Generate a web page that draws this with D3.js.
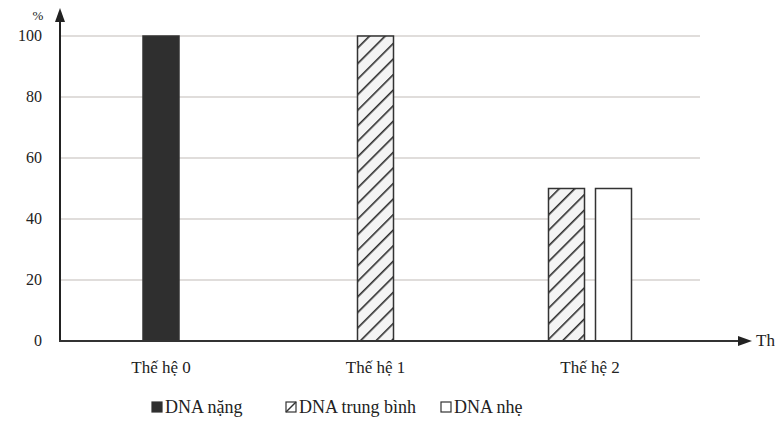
<!DOCTYPE html>
<html><head><meta charset="utf-8">
<script src="https://cdn.jsdelivr.net/npm/d3@7"></script>
<style>body{margin:0;background:#fff}text{font-family:"Liberation Serif",serif;fill:#222}</style>
</head><body><svg id="c" width="775" height="432"></svg>
<script>
const categories = ["Thế hệ 0", "Thế hệ 1", "Thế hệ 2"];
const seriesNames = ["DNA nặng", "DNA trung bình", "DNA nhẹ"];
const heavy = [100, 0, 0];
const medium = [0, 100, 50];
const light = [0, 0, 50];
const yTicks = [0, 20, 40, 60, 80, 100];

const svg = d3.select("#c");
const defs = svg.append("defs");
const pat = defs.append("pattern").attr("id", "hatch").attr("patternUnits", "userSpaceOnUse")
  .attr("width", 11).attr("height", 11).attr("patternTransform", "rotate(-45)");
pat.append("rect").attr("width", 11).attr("height", 11).attr("fill", "#f4f4f4");
pat.append("line").attr("x1", 0).attr("y1", 0).attr("x2", 11).attr("y2", 0).attr("stroke", "#2a2a2a").attr("stroke-width", 3.2);

const fills = ["#2f2f2f", "url(#hatch)", "#fff"];
const series = [heavy, medium, light];
const y = d3.scaleLinear().domain([0, 100]).range([341, 36]);
const x = d3.scalePoint().domain(categories).range([161, 590]);
const barW = 36, gap = 11;

svg.append("g").selectAll("line").data(yTicks.filter(d => d > 0)).join("line")
  .attr("x1", 60).attr("x2", 700).attr("y1", d => y(d)).attr("y2", d => y(d))
  .attr("stroke", "#d6d2cf").attr("stroke-width", 1.5);

svg.append("g").selectAll("text").data(yTicks).join("text")
  .attr("x", 42).attr("y", d => y(d) + 5).attr("text-anchor", "end").attr("font-size", 16).text(d => d);
svg.append("text").attr("x", 38).attr("y", 20).attr("text-anchor", "middle").attr("font-size", 13).text("%");

const bars = [];
categories.forEach((c, i) => {
  const present = series.map((s, k) => ({k, v: s[i]})).filter(d => d.v > 0);
  const total = present.length * barW + (present.length - 1) * gap;
  present.forEach((d, j) => bars.push({c, k: d.k, v: d.v, x: x(c) - total / 2 + j * (barW + gap)}));
});
svg.append("g").selectAll("rect").data(bars).join("rect")
  .attr("x", d => d.x).attr("width", barW).attr("y", d => y(d.v)).attr("height", d => y(0) - y(d.v))
  .attr("fill", d => fills[d.k]).attr("stroke", "#333").attr("stroke-width", 1.5);

svg.append("line").attr("x1", 60).attr("x2", 60).attr("y1", 342).attr("y2", 18).attr("stroke", "#222").attr("stroke-width", 2);
svg.append("path").attr("d", "M60,8 L55,22 L65,22 Z").attr("fill", "#222");
svg.append("line").attr("x1", 59).attr("x2", 742).attr("y1", 341).attr("y2", 341).attr("stroke", "#333").attr("stroke-width", 2);
svg.append("path").attr("d", "M752,341 L738,336 L738,346 Z").attr("fill", "#222");
svg.append("text").attr("x", 756).attr("y", 346).attr("font-size", 17).text("Thế hệ");

svg.append("g").selectAll("text").data(categories).join("text")
  .attr("x", d => x(d)).attr("y", 373).attr("text-anchor", "middle").attr("font-size", 17).text(d => d);

const legX = [152, 286, 441];
const lg = svg.append("g").selectAll("g").data(seriesNames).join("g")
  .attr("transform", (d, i) => `translate(${legX[i]},413)`);
lg.append("rect").attr("x", 0).attr("y", -11).attr("width", 10).attr("height", 10)
  .attr("fill", (d, i) => i === 1 ? "#fff" : fills[i]).attr("stroke", "#333").attr("stroke-width", 1.2);
lg.filter((d, i) => i === 1).append("line").attr("x1", 0).attr("y1", -1).attr("x2", 10).attr("y2", -11).attr("stroke", "#333").attr("stroke-width", 1.5);
lg.append("text").attr("x", 13).attr("y", 0).attr("font-size", 18).text(d => d);
</script></body></html>
